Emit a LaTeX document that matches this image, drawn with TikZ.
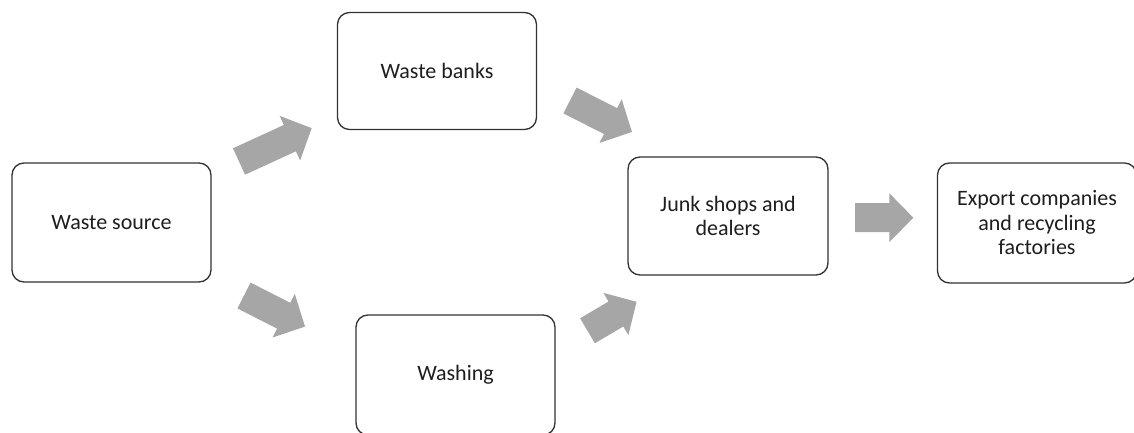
\documentclass[tikz,border=0pt]{standalone}
\usepackage{fontspec}
\setmainfont{Carlito}
\definecolor{arrowgray}{RGB}{166,166,166}
\definecolor{boxline}{RGB}{50,50,50}
\definecolor{txt}{RGB}{30,30,30}
\tikzset{
  x=1pt, y=1pt,
  procbox/.style={draw=boxline, line width=1.3pt, rounded corners=12pt, fill=white,
    minimum width=199pt, minimum height=119pt, align=center, text=txt,
    font=\fontsize{22}{24.5}\selectfont, inner sep=0pt},
  pics/blockarrow/.style={code={
    \fill[arrowgray] (0,-14.5) -- (#1-24,-14.5) -- (#1-24,-24.5) -- (#1,0)
      -- (#1-24,24.5) -- (#1-24,14.5) -- (0,14.5) -- cycle;}}
}
\begin{document}
\begin{tikzpicture}
\useasboundingbox (0,0) rectangle (1134,432);
\node[procbox] (src) at (111.5,209.5) {Waste source};
\node[procbox, minimum height=117pt] (banks) at (437,361) {Waste banks};
\node[procbox, minimum height=120pt] (wash) at (455.5,57) {Washing};
\node[procbox, minimum width=200pt, minimum height=118pt] (junk) at (728,216) {Junk shops and\\dealers};
\node[procbox, minimum height=120pt] (export) at (1037,209) {Export companies\\and recycling\\factories};
\pic[rotate=24.65] at (239,270.5) {blockarrow=80};
\pic[rotate=-26.9] at (570,331.5) {blockarrow=69.5};
\pic[rotate=-27] at (244,136.5) {blockarrow=68.5};
\pic[rotate=30.6] at (587.5,101.2) {blockarrow=57};
\pic at (855,214.3) {blockarrow=58.3};
\end{tikzpicture}
\end{document}
